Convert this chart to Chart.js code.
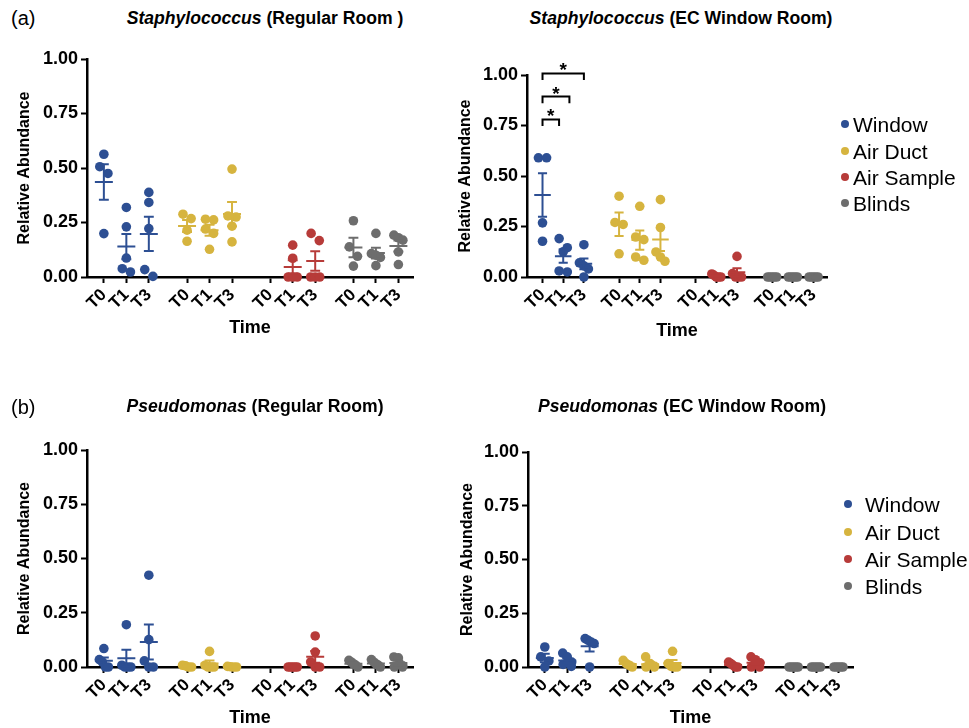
<!DOCTYPE html>
<html>
<head>
<meta charset="utf-8">
<script src="https://cdn.jsdelivr.net/npm/chart.js@4.4.1/dist/chart.umd.min.js"></script>
<style>
  html, body { margin: 0; padding: 0; background: #fff; }
  body { width: 969px; height: 728px; position: relative; overflow: hidden;
         font-family: "Liberation Sans", Arial, Helvetica, sans-serif; color: #000; }
  .ptitle { position: absolute; font-weight: bold; font-size: 17.6px; white-space: nowrap;
            transform: translate(-50%, -50%); }
  .ptitle i { font-style: italic; }
  .plabel { position: absolute; font-size: 20px; transform: translateY(-50%); }
  .leg { position: absolute; font-size: 21px; white-space: nowrap; transform: translateY(-50%); line-height: 1; }
  .dot { position: absolute; width: 8px; height: 8px; border-radius: 50%; transform: translate(-50%, -50%); }
</style>
</head>
<body>
<script>
// ---------------- DATA ----------------
const groupNames = ['Window', 'Air Duct', 'Air Sample', 'Blinds'];
const timeLabels = ['T0', 'T1', 'T3'];
const yTickValues = [0, 0.25, 0.5, 0.75, 1.0];

// (a) Staphylococcus, Regular Room  -> [T0, T1, T3]
const staphRegWindow = [[0.563, 0.506, 0.475, 0.199], [0.319, 0.230, 0.087, 0.038, 0.023], [0.388, 0.342, 0.222, 0.034, 0.003]];
const staphRegDuct   = [[0.288, 0.268, 0.215, 0.164], [0.265, 0.262, 0.220, 0.200, 0.127], [0.495, 0.280, 0.275, 0.233, 0.161]];
const staphRegSample = [[], [0.146, 0.086, 0, 0, 0], [0.200, 0.167, 0, 0, 0]];
const staphRegBlinds = [[0.258, 0.138, 0.095, 0.050], [0.200, 0.107, 0.100, 0.090, 0.052], [0.192, 0.180, 0.169, 0.115, 0.057]];

// (a) Staphylococcus, EC Window Room
const staphECWindow = [[0.590, 0.590, 0.268, 0.177], [0.190, 0.145, 0.125, 0.030, 0.025], [0.160, 0.070, 0.055, 0.040, 0.000]];
const staphECDuct   = [[0.400, 0.270, 0.260, 0.115], [0.350, 0.198, 0.185, 0.099, 0.083], [0.383, 0.245, 0.124, 0.099, 0.078]];
const staphECSample = [[], [0.015, 0.008, 0, 0, 0], [0.102, 0.017, 0, 0, 0]];
const staphECBlinds = [[0, 0, 0, 0, 0], [0, 0, 0, 0, 0], [0, 0, 0, 0, 0]];
// significance brackets (x in column units of the Window group, y = bracket height)
const staphECBrackets = [
  { from: 0, to: 0.8, y: 0.78, label: '*' },
  { from: 0, to: 1.3, y: 0.893, label: '*' },
  { from: 0, to: 2.0, y: 1.008, label: '*' }
];

// (b) Pseudomonas, Regular Room
const pseudoRegWindow = [[0.085, 0.034, 0.023, 0, 0], [0.195, 0.008, 0, 0, 0], [0.423, 0.126, 0.028, 0, 0]];
const pseudoRegDuct   = [[0.008, 0.005, 0, 0], [0.072, 0.008, 0, 0, 0], [0.003, 0.001, 0, 0]];
const pseudoRegSample = [[], [0, 0, 0, 0, 0], [0.143, 0.069, 0.023, 0, 0]];
const pseudoRegBlinds = [[0.031, 0.023, 0.015, 0.008, 0], [0.034, 0.023, 0.015, 0.008, 0], [0.046, 0.042, 0.005, 0, 0]];

// (b) Pseudomonas, EC Window Room
const pseudoECWindow = [[0.093, 0.047, 0.028, 0], [0.065, 0.047, 0.023, 0.012, 0.003], [0.132, 0.124, 0.116, 0.109, 0]];
const pseudoECDuct   = [[0.031, 0.016, 0.008, 0], [0.047, 0.016, 0.003, 0, 0], [0.073, 0.016, 0.003, 0, 0]];
const pseudoECSample = [[], [0.023, 0.016, 0.008, 0, 0], [0.047, 0.034, 0.019, 0, 0]];
const pseudoECBlinds = [[0, 0, 0, 0, 0], [0, 0, 0, 0, 0], [0, 0, 0, 0, 0]];

// ---------------- STYLE / LAYOUT ----------------
const groupColors = ['#2d4f93', '#d6b43f', '#b73b39', '#6d6d6d'];
const FONT = '"Liberation Sans", Arial, Helvetica, sans-serif';
Chart.defaults.font.family = FONT;
Chart.defaults.color = '#000';

const X_MIN = -0.75, X_MAX = 13.75, GROUP_STEP = 3.7;
const DOT_R = 4.8;
const tickPositions = [];
groupNames.forEach((g, gi) => timeLabels.forEach((t, ti) => tickPositions.push(gi * GROUP_STEP + ti)));

// spread overlapping dots horizontally (scatter dot plot style)
function swarm(values, pxX, pxY) {
  const d = DOT_R * 2, maxSpread = 9;
  const idx = values.map((v, i) => i).sort((a, b) => values[b] - values[a]);
  const off = new Array(values.length).fill(0);
  let i = 0;
  while (i < idx.length) {
    let j = i + 1;
    while (j < idx.length && (values[idx[i]] - values[idx[j]]) * pxY < d) j++;
    const n = j - i;
    if (n > 1) {
      const step = Math.min(d * 0.85, maxSpread / (n - 1));
      for (let k = 0; k < n; k++) off[idx[i + k]] = (k - (n - 1) / 2) * step / pxX;
    }
    i = j;
  }
  return off;
}

function stats(vals) {
  const n = vals.length;
  const m = vals.reduce((a, b) => a + b, 0) / n;
  if (n < 2) return { m, sem: 0 };
  const sd = Math.sqrt(vals.reduce((a, b) => a + (b - m) * (b - m), 0) / (n - 1));
  return { m, sem: sd / Math.sqrt(n) };
}

function buildPanel(cfg) {
  const canvas = document.createElement('canvas');
  canvas.width = cfg.w; canvas.height = cfg.h;
  canvas.style.cssText = `position:absolute;left:${cfg.x}px;top:${cfg.y}px;width:${cfg.w}px;height:${cfg.h}px;`;
  document.body.appendChild(canvas);

  const a = cfg.area;
  const pxX = (a.r - a.l) / (X_MAX - X_MIN), pxY = a.b - a.t;
  const Y_TITLE_OFF = 4 + 16 * 1.2 / 2;
  const X_TITLE_OFF = 4 + 18 * 1.2 / 2;
  const padL = cfg.yTitleX - Y_TITLE_OFF - cfg.x;
  const yW = a.l - cfg.x - padL;
  const padT = a.t - cfg.y;
  const padR = cfg.x + cfg.w - a.r;
  const scaleBottom = cfg.xTitleY + X_TITLE_OFF;
  const padB = cfg.y + cfg.h - scaleBottom;
  const xH = scaleBottom - a.b;

  const datasets = cfg.series.map((cols, g) => {
    const pts = [];
    cols.forEach((vals, t) => {
      const off = swarm(vals, pxX, pxY);
      vals.forEach((v, i) => pts.push({ x: g * GROUP_STEP + t + off[i], y: v }));
    });
    return {
      label: groupNames[g], data: pts,
      backgroundColor: groupColors[g], borderColor: groupColors[g], borderWidth: 0,
      pointRadius: DOT_R, pointHoverRadius: DOT_R, showLine: false, clip: false
    };
  });

  const overlay = {
    id: 'errorBars',
    afterDatasetsDraw(chart) {
      const ctx = chart.ctx, xs = chart.scales.x, ys = chart.scales.y;
      const unit = xs.getPixelForValue(1) - xs.getPixelForValue(0);
      ctx.save();
      ctx.lineWidth = 2;
      cfg.series.forEach((cols, g) => cols.forEach((vals, t) => {
        if (!vals.length) return;
        const s = stats(vals);
        const cx = xs.getPixelForValue(g * GROUP_STEP + t);
        const ym = ys.getPixelForValue(s.m);
        const yt = ys.getPixelForValue(s.m + s.sem);
        const yb = ys.getPixelForValue(Math.max(0, s.m - s.sem));
        ctx.strokeStyle = groupColors[g];
        ctx.beginPath();
        ctx.moveTo(cx - 0.4 * unit, ym); ctx.lineTo(cx + 0.4 * unit, ym);
        if (s.sem > 0) {
          ctx.moveTo(cx, yt); ctx.lineTo(cx, yb);
          ctx.moveTo(cx - 0.22 * unit, yt); ctx.lineTo(cx + 0.22 * unit, yt);
          if (s.m - s.sem > 0) { ctx.moveTo(cx - 0.22 * unit, yb); ctx.lineTo(cx + 0.22 * unit, yb); }
        }
        ctx.stroke();
      }));
      if (cfg.brackets) {
        ctx.strokeStyle = '#000'; ctx.fillStyle = '#000'; ctx.lineWidth = 2;
        ctx.font = 'bold 19px ' + FONT; ctx.textAlign = 'center'; ctx.textBaseline = 'alphabetic';
        cfg.brackets.forEach(b => {
          const x1 = xs.getPixelForValue(b.from), x2 = xs.getPixelForValue(b.to);
          const y = ys.getPixelForValue(b.y), yl = ys.getPixelForValue(b.y - 0.033);
          ctx.beginPath();
          ctx.moveTo(x1, yl); ctx.lineTo(x1, y); ctx.lineTo(x2, y); ctx.lineTo(x2, yl);
          ctx.stroke();
          ctx.fillText(b.label, (x1 + x2) / 2, y + 3);
        });
      }
      ctx.restore();
    }
  };

  const axisGrid = { display: true, drawOnChartArea: false, drawTicks: true, tickLength: 6, tickWidth: 2, tickColor: '#000' };
  const axisBorder = { display: true, color: '#000', width: 2.5 };

  new Chart(canvas, {
    type: 'scatter',
    data: { datasets },
    options: {
      responsive: false, animation: false, events: [],
      layout: { padding: { left: padL, top: padT, right: padR, bottom: padB } },
      plugins: { legend: { display: false }, tooltip: { enabled: false } },
      scales: {
        x: {
          type: 'linear', min: X_MIN, max: X_MAX,
          afterBuildTicks: s => { s.ticks = tickPositions.map(v => ({ value: v })); },
          afterFit: s => { s.height = xH; },
          ticks: { autoSkip: false, minRotation: 45, maxRotation: 45, padding: 2, color: '#000',
                   font: { size: 17, weight: 'bold' }, callback: (v, i) => timeLabels[i % 3] },
          grid: axisGrid, border: axisBorder,
          title: { display: true, text: 'Time', color: '#000', font: { size: 18, weight: 'bold' }, padding: { top: 4, bottom: 4 } }
        },
        y: {
          min: 0, max: 1,
          afterBuildTicks: s => { s.ticks = yTickValues.map(v => ({ value: v })); },
          afterFit: s => { s.width = yW; },
          ticks: { padding: 3, color: '#000', font: { size: 18, weight: 'bold' }, callback: v => v.toFixed(2) },
          grid: axisGrid, border: axisBorder,
          title: { display: true, text: 'Relative Abundance', color: '#000', font: { size: 16, weight: 'bold' }, padding: { top: 4, bottom: 4 } }
        }
      }
    },
    plugins: [overlay]
  });
}

function addTitle(italicPart, rest, cx, cy) {
  const d = document.createElement('div');
  d.className = 'ptitle';
  d.style.left = cx + 'px'; d.style.top = cy + 'px';
  const i = document.createElement('i'); i.textContent = italicPart;
  d.appendChild(i); d.appendChild(document.createTextNode(rest));
  document.body.appendChild(d);
}
function addLabel(text, x, cy) {
  const d = document.createElement('div');
  d.className = 'plabel'; d.textContent = text;
  d.style.left = x + 'px'; d.style.top = cy + 'px';
  document.body.appendChild(d);
}
function addLegend(dotX, textX, ys) {
  groupNames.forEach((name, g) => {
    const dot = document.createElement('div');
    dot.className = 'dot'; dot.style.background = groupColors[g];
    dot.style.left = dotX + 'px'; dot.style.top = ys[g] + 'px';
    document.body.appendChild(dot);
    const t = document.createElement('div');
    t.className = 'leg'; t.textContent = name;
    t.style.left = textX + 'px'; t.style.top = ys[g] + 'px';
    document.body.appendChild(t);
  });
}

buildPanel({ x: 0, y: 40, w: 440, h: 310, area: { l: 87, t: 59, r: 413, b: 277 }, yTitleX: 25, xTitleY: 328,
  series: [staphRegWindow, staphRegDuct, staphRegSample, staphRegBlinds] });
buildPanel({ x: 440, y: 40, w: 420, h: 310, area: { l: 527, t: 75, r: 827, b: 277 }, yTitleX: 466, xTitleY: 331,
  series: [staphECWindow, staphECDuct, staphECSample, staphECBlinds], brackets: staphECBrackets });
buildPanel({ x: 0, y: 390, w: 440, h: 345, area: { l: 87, t: 450, r: 413, b: 667 }, yTitleX: 25, xTitleY: 718,
  series: [pseudoRegWindow, pseudoRegDuct, pseudoRegSample, pseudoRegBlinds] });
buildPanel({ x: 440, y: 390, w: 420, h: 345, area: { l: 528, t: 452, r: 853, b: 667 }, yTitleX: 468, xTitleY: 718,
  series: [pseudoECWindow, pseudoECDuct, pseudoECSample, pseudoECBlinds] });

addLabel('(a)', 11, 18);
addLabel('(b)', 11, 407);
addTitle('Staphylococcus', ' (Regular Room )', 265, 18);
addTitle('Staphylococcus', ' (EC Window Room)', 681, 18);
addTitle('Pseudomonas', ' (Regular Room)', 255, 406);
addTitle('Pseudomonas', ' (EC Window Room)', 682, 406);
addLegend(845, 853, [124, 151, 177, 203]);
addLegend(848, 865, [504, 532, 559, 586]);
</script>
</body>
</html>
